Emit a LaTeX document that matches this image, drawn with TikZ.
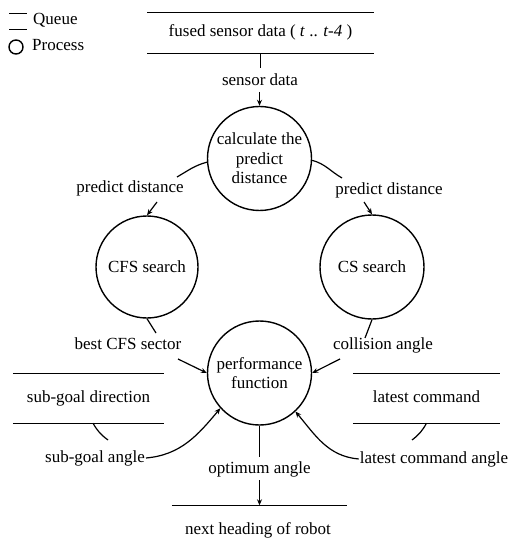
\documentclass[tikz,border=0pt]{standalone}
\usepackage{fontspec}
\setmainfont{Liberation Serif}
\usetikzlibrary{arrows.meta}
\begin{document}
\begin{tikzpicture}[x=1pt,y=1pt,
  every node/.style={font=\fontsize{17}{19.5}\selectfont, inner sep=0pt},
  proc/.style={circle, draw, line width=1.4pt, minimum size=#1, inner sep=0pt, align=center},
  conn/.style={line width=1.2pt},
  arr/.style={line width=1.2pt, -{Stealth[length=6pt,width=5pt]}},
  qline/.style={line width=1.3pt},
  lbl/.style={inner sep=1pt, text height=12pt, text depth=4pt},
  queue/.style={text height=12pt, text depth=4pt, minimum width=#1, minimum height=49pt}
]
\useasboundingbox (0,0) rectangle (511,-553);

% legend
\draw[qline] (9,-13.5) -- ++(18,0) (9,-29.5) -- ++(18,0);
\node[lbl, anchor=west] (lgq) at (32,-21) {Queue};
\node[circle, draw, line width=1.4pt, minimum size=14pt] (lgp) at (16,-47) {};
\node[lbl, anchor=west] (lgpt) at (31,-47) {Process};

% top queue
\node[queue=226pt, minimum height=40pt] (fused) at (260.5,-33) {fused sensor data ( \textit{t} .. \textit{t-4} )};
\draw[qline] (fused.north west) -- (fused.north east) (fused.south west) -- (fused.south east);

\node[lbl] (sd) at (260,-82) {sensor data};

% processes
\node[proc=104pt] (c1) at (259.5,-158.5) {calculate the\\predict\\distance};
\node[proc=102pt] (cfs) at (147,-267) {CFS search};
\node[proc=104pt] (cs) at (372,-267) {CS search};
\node[proc=104pt] (perf) at (259.5,-373) {performance\\function};

% labels
\node[lbl] (pdl) at (130,-189) {predict distance};
\node[lbl] (pdr) at (389,-190) {predict distance};
\node[lbl] (bcs) at (128,-345) {best CFS sector};
\node[lbl] (ca) at (383,-345) {collision angle};
\node[lbl] (sga) at (95,-458) {sub-goal angle};
\node[lbl] (lca) at (434,-459) {latest command angle};
\node[lbl] (oa) at (259.5,-469) {optimum angle};

% side queues
\node[queue=151pt] (sgq) at (88.5,-398.5) {sub-goal direction};
\draw[qline] (sgq.north west) -- (sgq.north east) (sgq.south west) -- (sgq.south east);
\node[queue=147pt] (lcq) at (426.5,-398.5) {latest command};
\draw[qline] (lcq.north west) -- (lcq.north east) (lcq.south west) -- (lcq.south east);

% bottom queue
\node[minimum width=175pt, minimum height=0pt] (nq) at (259.5,-505.5) {};
\draw[qline] (nq.west) -- (nq.east);
\node[lbl] (nh) at (258,-530) {next heading of robot};

% coordinates for free ends
\coordinate (sdIn) at (260.5,-68);
\coordinate (sdOut) at (259.5,-92);
\coordinate (pdlA) at (177,-177);
\coordinate (pdlB) at (157,-202);
\coordinate (pdrA) at (342,-178);
\coordinate (pdrB) at (364,-202);
\coordinate (bcsA) at (156,-333);
\coordinate (bcsB) at (178,-359);
\coordinate (caA) at (365,-338);
\coordinate (caB) at (340,-359);
\coordinate (sgA) at (108,-440);
\coordinate (lcA) at (412,-440);
\coordinate (oaA) at (259.5,-457);
\coordinate (oaB) at (259.5,-480);

% connectors
\draw[conn] (fused.south) -- (sdIn);
\draw[arr] (sdOut) -- (c1.north);
\draw[conn] (c1.184) to[out=195,in=30] (pdlA);
\draw[arr] (pdlB) -- (cfs.north);
\draw[conn] (c1.358) to[out=-15,in=150] (pdrA);
\draw[arr] (pdrB) -- (cs.north);
\draw[conn] (cfs.south) -- (bcsA);
\draw[arr] (bcsB) -- (perf.180);
\draw[conn] (cs.south) -- (caA);
\draw[arr] (caB) -- (perf.0);
\draw[conn] ([xshift=4.5pt]sgq.south) to[bend right=12] (sgA);
\draw[arr] (sga.east) to[out=5,in=230] (perf.222);
\draw[conn] (lcq.south) to[bend left=12] (lcA);
\draw[arr] (lca.west) to[out=175,in=-50] (perf.313);
\draw[conn] (perf.south) -- (oaA);
\draw[arr] (oaB) -- (nq.north);
\end{tikzpicture}
\end{document}
